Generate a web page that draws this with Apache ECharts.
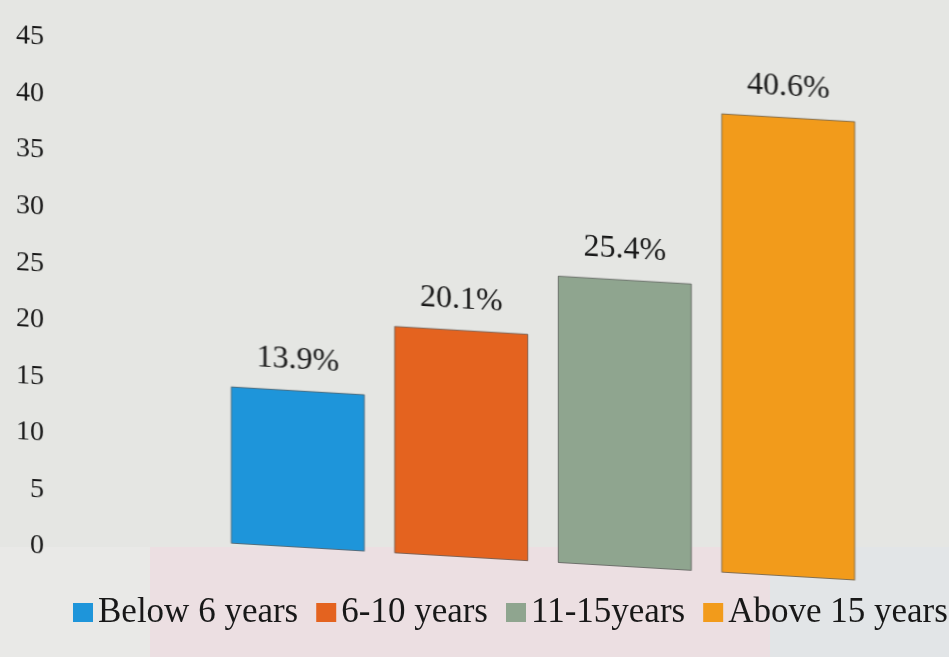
<!DOCTYPE html>
<html>
<head>
<meta charset="utf-8">
<title>Years of experience</title>
<script src="https://cdn.jsdelivr.net/npm/echarts@6/dist/echarts.min.js"></script>
<style>
  html, body { margin: 0; padding: 0; overflow: hidden; background: #e5e6e3; }
  #bg, #plot { position: absolute; left: 0; top: 0; width: 949px; height: 657px; }
  /* the printed page is photographed at a slight angle */
  #plot { transform: skewY(3.38deg); transform-origin: 0 0; }
</style>
</head>
<body>
<div id="bg"></div>
<div id="plot"></div>
<script>
// Share of respondents by years of experience (%)
const categories = ['Below 6 years', '6-10 years', '11-15years', 'Above 15 years'];
const values = [13.9, 20.1, 25.4, 40.6];
const yMin = 0;
const yMax = 45;
const yStep = 5;

const palette = ['#1e95da', '#e4631f', '#8fa58f', '#f29b1b'];
const serif = '"Liberation Serif", "DejaVu Serif", serif';
const ink = '#181818';

// Page background, tinted band and legend (kept level)
const bg = echarts.init(document.getElementById('bg'), null, { renderer: 'canvas' });
bg.setOption({
  backgroundColor: '#e5e6e3',
  animation: false,
  graphic: [
    { type: 'rect', left: 0, top: 547, shape: { width: 150, height: 110 },
      style: { fill: '#e9e9e7' }, z: 0 },
    { type: 'rect', left: 150, top: 547, shape: { width: 620, height: 110 },
      style: { fill: '#ecdfe2' }, z: 0 },
    { type: 'rect', left: 770, top: 547, shape: { width: 179, height: 110 },
      style: { fill: '#e2e5e7' }, z: 0 }
  ],
  legend: {
    left: 73,
    top: 595,
    padding: 0,
    icon: 'rect',
    itemWidth: 20,
    itemHeight: 19,
    itemGap: 18,
    textStyle: { fontFamily: serif, fontSize: 35, color: ink }
  },
  grid: { left: 0, right: 0, top: 0, bottom: 0, show: false },
  xAxis: { type: 'category', data: categories, show: false },
  yAxis: { type: 'value', show: false },
  series: categories.map((name, i) => ({
    name: name,
    type: 'bar',
    data: [],
    itemStyle: { color: palette[i] }
  }))
});

// Bars, value labels and the value axis
const plot = echarts.init(document.getElementById('plot'), null, { renderer: 'canvas' });
plot.setOption({
  backgroundColor: 'transparent',
  animation: false,
  legend: { show: false },
  grid: { left: 216, right: 79, top: 21, bottom: 127 },
  xAxis: {
    type: 'category',
    data: categories,
    show: false
  },
  yAxis: {
    type: 'value',
    min: yMin,
    max: yMax,
    interval: yStep,
    axisLine: { show: false },
    axisTick: { show: false },
    splitLine: { show: false },
    axisLabel: {
      margin: 172,
      verticalAlign: 'top',
      fontFamily: serif,
      fontSize: 28,
      color: ink
    }
  },
  series: categories.map((name, i) => ({
    name: name,
    type: 'bar',
    stack: 'share',
    barWidth: 134,
    data: categories.map((_, j) => (j === i ? values[i] : null)),
    itemStyle: {
      color: palette[i],
      borderColor: 'rgba(45,45,45,0.55)',
      borderWidth: 1
    },
    label: {
      show: true,
      position: 'top',
      distance: 14,
      fontFamily: serif,
      fontSize: 32,
      color: ink,
      formatter: (p) => p.value + '%'
    }
  }))
});
</script>
</body>
</html>
